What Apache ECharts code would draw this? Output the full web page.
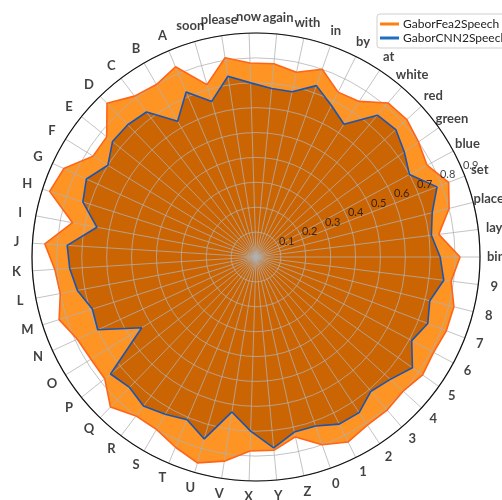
<!DOCTYPE html>
<html>
<head>
<meta charset="utf-8">
<script src="https://cdn.jsdelivr.net/npm/echarts@6/dist/echarts.min.js"></script>
<style>
  html, body { margin: 0; padding: 0; background: #fff; }
  #chart { width: 502px; height: 500px; }
</style>
</head>
<body>
<div id="chart"></div>
<script>
// GRID-corpus vocabulary, one spoke per word, counter-clockwise from the right
const categories = ['bin','lay','place','set','blue','green','red','white','at','by','in','with',
  'again','now','please','soon','A','B','C','D','E','F','G','H','I','J','K','L','M','N','O','P',
  'Q','R','S','T','U','V','X','Y','Z','0','1','2','3','4','5','6','7','8','9'];

const gaborFea2Speech = [0.82,0.74,0.80,0.83,0.78,0.80,0.82,0.815,0.75,0.74,0.80,0.76,
  0.78,0.78,0.81,0.72,0.83,0.80,0.81,0.86,0.77,0.77,0.85,0.87,0.75,0.85,0.81,0.80,0.83,0.79,0.78,0.78,
  0.84,0.80,0.80,0.83,0.86,0.83,0.78,0.78,0.74,0.80,0.83,0.81,0.81,0.80,0.82,0.81,0.82,0.82,0.79];

const gaborCNN2Speech = [0.74,0.71,0.73,0.78,0.70,0.73,0.76,0.75,0.64,0.68,0.73,0.68,
  0.68,0.70,0.735,0.65,0.72,0.63,0.73,0.74,0.74,0.70,0.75,0.73,0.65,0.76,0.75,0.73,0.69,0.70,0.54,0.75,
  0.73,0.75,0.73,0.71,0.76,0.63,0.70,0.77,0.72,0.72,0.75,0.75,0.71,0.73,0.77,0.71,0.74,0.72,0.76];

const radialTicks = [0.1,0.2,0.3,0.4,0.5,0.6,0.7,0.8,0.9];

const N = categories.length;
const R_MAX = 0.9;
const FONT = 'Lato, "Open Sans", sans-serif';
// angle (in spoke units) where the radial tick labels sit: 22.5 degrees
const rLabelAngle = 22.5 / (360 / N);

// closed polygon: [radius, angleIndex] pairs, repeating the first point at the end
function ring(values) {
  const pts = values.map((v, i) => [v, i]);
  pts.push([values[0], N]);
  return pts;
}

const chart = echarts.init(document.getElementById('chart'), null, { renderer: 'canvas' });

const gridColor = 'rgba(176,176,176,0.85)';

chart.setOption({
  animation: false,
  backgroundColor: '#fff',
  polar: { center: [256, 257], radius: 224 },
  angleAxis: {
    type: 'value', min: 0, max: N, interval: 1,
    startAngle: 0, clockwise: false,
    z: 3,
    axisLine: { show: true, lineStyle: { color: '#111', width: 1.2 } },
    axisTick: { show: false },
    axisLabel: { show: false },
    splitLine: { show: true, lineStyle: { color: gridColor, width: 0.9 } }
  },
  radiusAxis: {
    type: 'value', min: 0, max: R_MAX, interval: 0.1,
    z: 3,
    axisLine: { show: false },
    axisTick: { show: false },
    axisLabel: { show: false },
    splitLine: { show: true, lineStyle: { color: gridColor, width: 0.9 } }
  },
  legend: {
    orient: 'vertical',
    left: 377, top: 14,
    padding: [3, 4, 3, 3],
    itemGap: 0,
    icon: 'rect',
    itemWidth: 19, itemHeight: 3,
    backgroundColor: '#fff',
    borderColor: '#cfcfcf', borderWidth: 1, borderRadius: 3,
    data: ['GaborFea2Speech', 'GaborCNN2Speech'],
    textStyle: { fontFamily: FONT, fontSize: 12, lineHeight: 14, color: '#222', padding: [0, 0, 0, -1] }
  },
  series: [
    {
      name: 'GaborFea2Speech', type: 'line', coordinateSystem: 'polar',
      data: ring(gaborFea2Speech), symbol: 'none', z: 5,
      itemStyle: { color: '#ff7f0e' },
      lineStyle: { color: '#ff6418', width: 1.6 }
    },
    {
      name: 'GaborCNN2Speech', type: 'line', coordinateSystem: 'polar',
      data: ring(gaborCNN2Speech), symbol: 'none', z: 6,
      itemStyle: { color: '#1f6fc0' },
      lineStyle: { color: '#1a55b0', width: 1.6 }
    },
    {
      name: 'GaborFea2Speech', type: 'line', coordinateSystem: 'polar',
      data: ring(gaborFea2Speech), symbol: 'none', z: 1,
      lineStyle: { width: 0 },
      areaStyle: { color: '#fd9424', opacity: 1 }
    },
    {
      name: 'GaborCNN2Speech', type: 'line', coordinateSystem: 'polar',
      data: ring(gaborCNN2Speech), symbol: 'none', z: 2,
      lineStyle: { width: 0 },
      areaStyle: { color: '#cb6504', opacity: 1 }
    },
    {
      // word labels around the rim
      type: 'scatter', coordinateSystem: 'polar', clip: false, silent: true, z: 8,
      symbolSize: 0,
      data: categories.map((c, i) => [R_MAX * 240 / 224, i]),
      label: {
        show: true, position: 'inside',
        formatter: p => categories[p.dataIndex],
        fontFamily: FONT, fontWeight: 'bold', fontSize: 13, color: '#111'
      }
    },
    {
      // radial tick labels
      type: 'scatter', coordinateSystem: 'polar', clip: false, silent: true, z: 8,
      symbolSize: 0,
      data: radialTicks.map(t => [t, rLabelAngle]),
      label: {
        show: true, position: 'right', distance: 0, offset: [0, -6],
        formatter: p => String(radialTicks[p.dataIndex]),
        fontFamily: FONT, fontSize: 11, color: '#111'
      }
    }
  ]
});
</script>
</body>
</html>
